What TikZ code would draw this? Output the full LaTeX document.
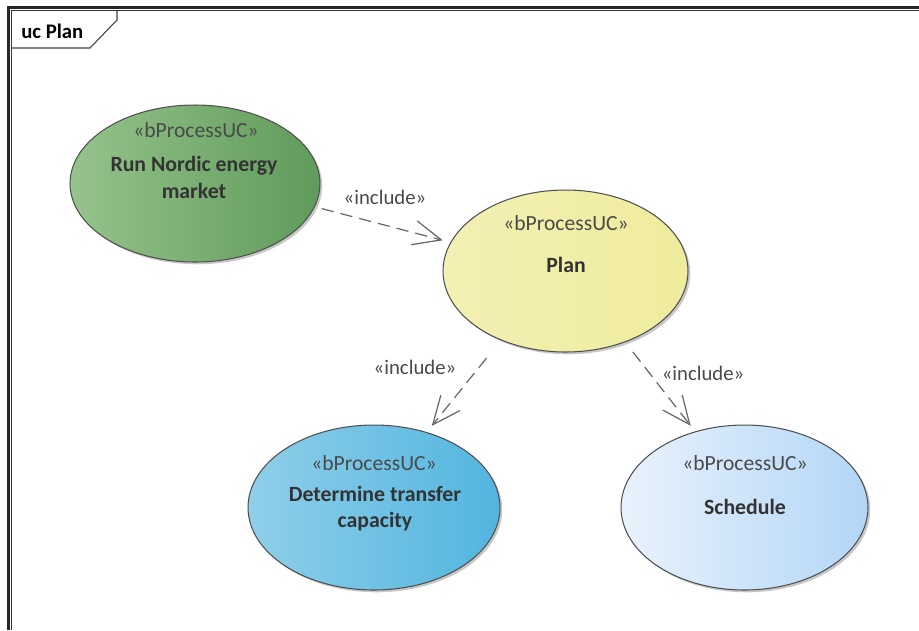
\documentclass[tikz,border=0pt]{standalone}
\usepackage{fontspec}
\setmainfont{Carlito}
\usepackage{xcolor}
\usetikzlibrary{shapes.geometric,arrows.meta,shadows}

\definecolor{runleft}{HTML}{96C38C}
\definecolor{runright}{HTML}{5F9B5A}
\definecolor{planleft}{HTML}{F2F0B4}
\definecolor{planmid}{HTML}{FAF9E0}
\definecolor{planright}{HTML}{EFEC9C}
\definecolor{detleft}{HTML}{8FCFE9}
\definecolor{detright}{HTML}{52B5DF}
\definecolor{schedleft}{HTML}{E9F2FC}
\definecolor{schedright}{HTML}{B3D6F7}
\definecolor{ucline}{HTML}{505050}
\definecolor{incline}{HTML}{686868}
\definecolor{stereotext}{HTML}{4A4A4A}
\definecolor{nametext}{HTML}{333333}

\begin{document}
\begin{tikzpicture}[x=0.02cm, y=-0.02cm, font=\fontsize{12}{15}\selectfont]
    \tikzstyle{usecase} = [ellipse, draw=ucline, line width=0.6pt, inner sep=0pt, drop shadow={shadow xshift=1.3pt, shadow yshift=-1.3pt, fill=black, opacity=0.22}]
    \tikzstyle{stereo} = [text=stereotext, inner sep=0pt, font=\fontsize{12.3}{15}\selectfont]
    \tikzstyle{ucname} = [text=nametext, font=\fontsize{12.4}{15}\selectfont\bfseries, align=center, inner sep=0pt]
    \tikzstyle{includearrow} = [draw=incline, line width=0.7pt, dash pattern=on 7pt off 4pt, -{Straight Barb[length=16pt, width=14pt]}]
    \tikzstyle{includelabel} = [text=stereotext, inner sep=0pt, font=\fontsize{11.8}{15}\selectfont]

    \useasboundingbox[fill=white] (0,0) rectangle (919,630);

    % Diagram frame
    \draw [line width=1.7pt, draw=black!85] (8.5,630) -- (8.5,7.5) -- (919,7.5);
    \draw [line width=0.6pt, draw=black!80] (11.5,630) -- (11.5,10.5) -- (919,10.5);
    \draw [line width=0.6pt, draw=black!75] (11.5,48) -- (90,48) -- (117,20) -- (117,10.5);
    \node [anchor=west, inner sep=0pt, font=\fontsize{11.8}{15}\selectfont\bfseries, text=black] (frame_title) at (21,31) {uc Plan};

    % Use cases
    \node [usecase, left color=runleft, right color=runright, minimum width=5cm, minimum height=3.14cm] (run_market) at (195,183.5) {};
    \node [usecase, left color=planleft, middle color=planmid, right color=planright, minimum width=4.9cm, minimum height=3.24cm] (plan) at (565.5,271) {};
    \node [usecase, left color=detleft, right color=detright, minimum width=5.04cm, minimum height=3.3cm] (transfer_cap) at (374,507.5) {};
    \node [usecase, left color=schedleft, right color=schedright, minimum width=4.94cm, minimum height=3.3cm] (schedule) at (744.5,507.5) {};

    % Stereotypes and names
    \node [stereo] (run_market_st) at (196,130) {«bProcessUC»};
    \node [ucname] (run_market_name) at (194,177.5) {Run Nordic energy\\market};
    \node [stereo] (plan_st) at (566,223) {«bProcessUC»};
    \node [ucname] (plan_name) at (566,265) {Plan};
    \node [stereo] (transfer_cap_st) at (374,463) {«bProcessUC»};
    \node [ucname] (transfer_cap_name) at (375,508.5) {Determine transfer\\capacity};
    \node [stereo] (schedule_st) at (745,463) {«bProcessUC»};
    \node [ucname] (schedule_name) at (745,507) {Schedule};

    % Include relations
    \draw [includearrow, shorten <=4pt, shorten >=4.5pt] (run_market.-11) -- (plan.166);
    \draw [includearrow, shorten <=13pt, shorten >=4.5pt] (plan.227) -- (transfer_cap.55);
    \draw [includearrow, shorten <=7pt, shorten >=4pt] (plan.310) -- (schedule.123);

    \node [includelabel] (incl_run) at (385,197) {«include»};
    \node [includelabel] (incl_transfer) at (415,367) {«include»};
    \node [includelabel] (incl_schedule) at (703,373) {«include»};
\end{tikzpicture}
\end{document}
